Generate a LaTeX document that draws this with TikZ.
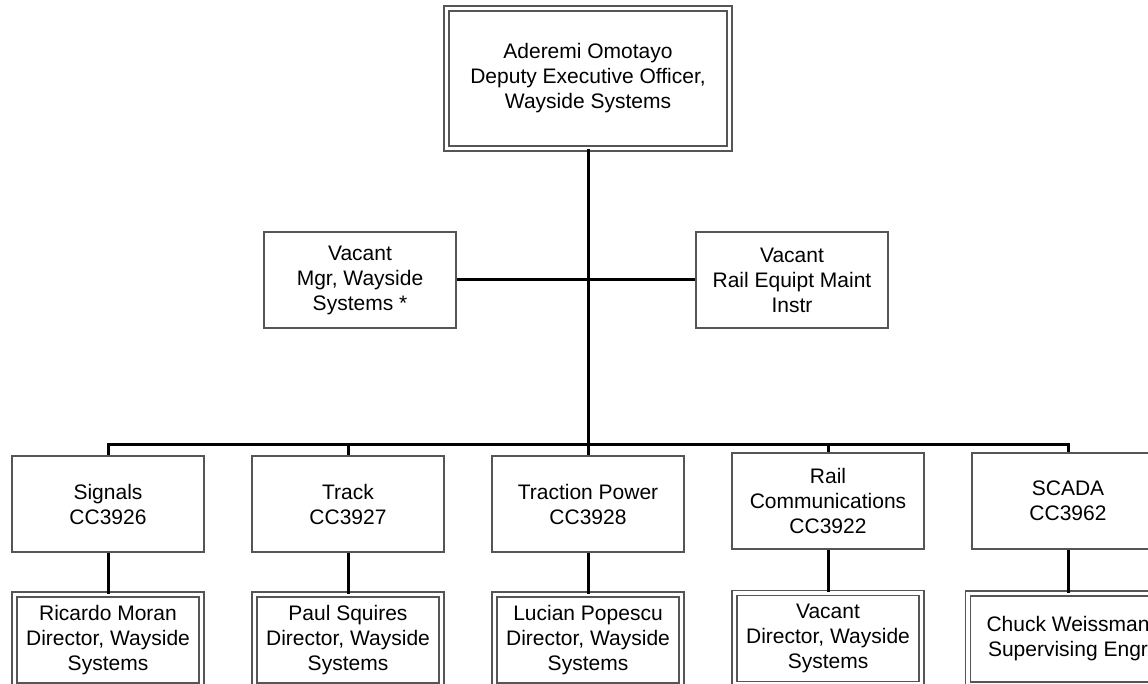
\documentclass[tikz,border=0pt]{standalone}
\usepackage{fontspec}
\setmainfont{Liberation Sans}
\definecolor{boxgray}{RGB}{85,85,85}
\begin{document}
\begin{tikzpicture}[x=1pt,y=-1pt,
  box/.style={draw=boxgray, line width=1.2pt, minimum width=192pt, minimum height=96pt,
    inner sep=0pt, align=center, font=\fontsize{21}{25}\selectfont},
  dbox/.style={box, double=white, double distance=3.8pt, minimum width=187pt, minimum height=91pt},
  conn/.style={line width=3pt, black}]
\useasboundingbox (0,0) rectangle (1148,684);
\clip (0,0) rectangle (1148,684);
\fill[white] (0,0) rectangle (1148,684);

% top
\node[dbox, minimum width=283pt, minimum height=140pt] (top) at (588,78.5)
  {Aderemi Omotayo\\Deputy Executive Officer,\\Wayside Systems};

% middle staff
\node[box] (mgr) at (360,280) {Vacant\\Mgr, Wayside\\Systems *};
\node[box] (instr) at (792,280) {Vacant\\Rail Equipt Maint\\Instr};

% level 2
\node[box] (sig) at (108,504) {Signals\\CC3926};
\node[box] (trk) at (348,504) {Track\\CC3927};
\node[box] (tp) at (588,504) {Traction Power\\CC3928};
\node[box] (rc) at (828,501) {Rail\\Communications\\CC3922};
\node[box] (sc) at (1068,501) {SCADA\\CC3962};

% level 3
\node[dbox] (sigd) at (108,640) {Ricardo Moran\\Director, Wayside\\Systems};
\node[dbox] (trkd) at (348,640) {Paul Squires\\Director, Wayside\\Systems};
\node[dbox] (tpd) at (588,640) {Lucian Popescu\\Director, Wayside\\Systems};
\node[dbox] (rcd) at (828,638.5) {Vacant\\Director, Wayside\\Systems};
\node[dbox] (scd) at (1068,639) {\raisebox{5pt}{\parbox{200pt}{\centering Chuck Weissman\\Supervising Engr}}};

% connectors
\coordinate (bus) at (588,444);
\coordinate (busL) at (108,444);
\coordinate (busR) at (1068,444);
\draw[conn] (top.south) -- (bus);
\draw[conn] (mgr.east) -- (instr.west);
\draw[conn, line cap=rect] (busL) -- (busR);
\draw[conn] (busL) -- (sig.north);
\draw[conn] (trk.north |- bus) -- (trk.north);
\draw[conn] (bus) -- (tp.north);
\draw[conn] (rc.north |- bus) -- (rc.north);
\draw[conn] (busR) -- (sc.north);
\draw[conn] (sig.south) -- (sigd.north);
\draw[conn] (trk.south) -- (trkd.north);
\draw[conn] (tp.south) -- (tpd.north);
\draw[conn] (rc.south) -- (rcd.north);
\draw[conn] (sc.south) -- (scd.north);
\end{tikzpicture}
\end{document}
